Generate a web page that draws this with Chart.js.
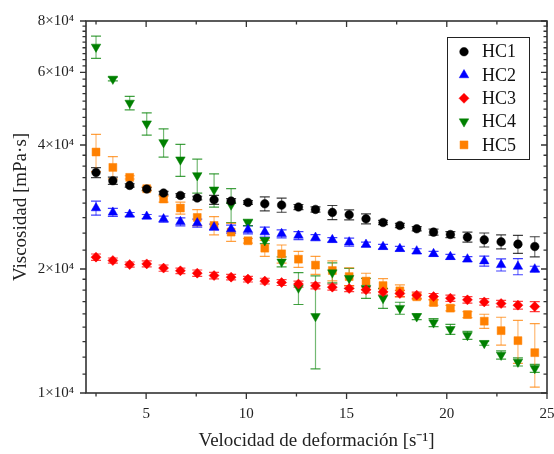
<!DOCTYPE html>
<html><head><meta charset="utf-8">
<script src="https://cdn.jsdelivr.net/npm/chart.js@4/dist/chart.umd.min.js"></script>
<style>html,body{margin:0;padding:0;background:#fff}#wrap{width:554px;height:454px}</style>
</head><body><div id="wrap"><canvas id="c" width="554" height="454"></canvas></div>
<script>
const xValues = [2.5, 3.34, 4.18, 5.03, 5.87, 6.71, 7.55, 8.39, 9.24, 10.08, 10.92, 11.76, 12.6, 13.45, 14.29, 15.13, 15.97, 16.82, 17.66, 18.5, 19.34, 20.18, 21.03, 21.87, 22.71, 23.55, 24.39];

const hc1 = [34300, 32760, 31910, 31270, 30580, 30170, 29740, 29450, 29240, 29010, 28800, 28590, 28280, 27900, 27440, 27080, 26480, 25940, 25510, 25040, 24580, 24250, 23900, 23540, 23280, 22980, 22680];
const hc1Err = [960, 680, 300, 300, 300, 300, 300, 740, 400, 300, 1130, 1120, 400, 400, 1080, 760, 740, 300, 300, 300, 410, 410, 670, 920, 910, 1160, 1270];

const hc2 = [28120, 27440, 27130, 26820, 26440, 26040, 25850, 25270, 25000, 24900, 24580, 24350, 24120, 23850, 23540, 23240, 22930, 22640, 22390, 22100, 21770, 21410, 21130, 20900, 20470, 20280, 19980];
const hc2Err = [1100, 615, 300, 300, 440, 580, 580, 425, 560, 560, 690, 545, 540, 400, 300, 520, 300, 300, 300, 300, 300, 300, 300, 585, 690, 910, 330];

const hc3 = [21370, 20970, 20500, 20580, 20100, 19800, 19540, 19280, 19110, 18900, 18690, 18540, 18380, 18200, 18070, 17930, 17800, 17600, 17440, 17280, 17140, 16990, 16830, 16640, 16490, 16340, 16210];
const hc3Err = [380, 300, 300, 350, 350, 300, 350, 350, 300, 300, 300, 300, 300, 300, 300, 300, 300, 300, 300, 300, 300, 300, 300, 300, 300, 350, 450];

const hc4 = [69220, 57870, 50600, 45070, 40590, 36850, 33750, 31150, 28640, 25940, 23450, 20820, 18000, 15350, 19600, 19000, 17970, 16990, 16070, 15330, 14820, 14280, 13810, 13210, 12370, 11900, 11480];
const hc4Err = [4300, 600, 1900, 2800, 3200, 3300, 3200, 2900, 2700, 440, 390, 580, 1600, 3900, 1100, 1060, 1000, 950, 540, 260, 330, 400, 310, 150, 280, 270, 260];

const hc5 = [38460, 35290, 33380, 31330, 29570, 28120, 26680, 25510, 24580, 23420, 22470, 21770, 21130, 20440, 19830, 19170, 18690, 18230, 17700, 17120, 16580, 16070, 15500, 14940, 14170, 13400, 12530];
const hc5Err = [4000, 2200, 300, 300, 500, 950, 1200, 1300, 1240, 300, 1000, 1100, 950, 1030, 1110, 970, 840, 715, 600, 250, 250, 250, 260, 590, 1100, 1600, 2200];

const seriesNames = ['HC1', 'HC2', 'HC3', 'HC4', 'HC5'];
const seriesColors = ['#000000', '#0000ff', '#ff0000', '#008000', '#ff8000'];

const xMajorTicks = [5, 10, 15, 20, 25];
const xMinorTicks = [2.5, 7.5, 12.5, 17.5, 22.5];
const yMajorTicks = [10000, 20000, 40000, 60000, 80000];
const yTickLabels = ['1×10⁴', '2×10⁴', '4×10⁴', '6×10⁴', '8×10⁴'];
const yMinorPerInterval = 8;

const FONT = "'Liberation Serif', 'Times New Roman', serif";

function toPoints(ys) { return xValues.map((x, i) => ({ x: x, y: ys[i] })); }

const styles = [
  { pointStyle: 'circle', radius: 4.3, rotation: 0 },
  { pointStyle: 'triangle', radius: 5.5, rotation: 0 },
  { pointStyle: 'rectRot', radius: 5, rotation: 0 },
  { pointStyle: 'triangle', radius: 5.5, rotation: 180 },
  { pointStyle: 'rect', radius: 5.6, rotation: 0 }
];
const allValues = [hc1, hc2, hc3, hc4, hc5];
const allErrors = [hc1Err, hc2Err, hc3Err, hc4Err, hc5Err];

const datasets = allValues.map((vals, k) => ({
  label: seriesNames[k],
  data: toPoints(vals),
  errors: allErrors[k],
  showLine: false,
  backgroundColor: seriesColors[k],
  borderColor: seriesColors[k],
  pointStyle: styles[k].pointStyle,
  pointRadius: styles[k].radius,
  pointRotation: styles[k].rotation,
  pointBorderWidth: 0.5
}));

function withAlpha(hex, a) {
  const r = parseInt(hex.slice(1, 3), 16), g = parseInt(hex.slice(3, 5), 16), b = parseInt(hex.slice(5, 7), 16);
  return 'rgba(' + r + ',' + g + ',' + b + ',' + a + ')';
}

const errorBarPlugin = {
  id: 'errorBars',
  beforeDatasetsDraw(chart) {
    const { ctx, scales: { x, y }, chartArea } = chart;
    ctx.save();
    ctx.beginPath();
    ctx.rect(chartArea.left, chartArea.top, chartArea.right - chartArea.left, chartArea.bottom - chartArea.top);
    ctx.clip();
    chart.data.datasets.forEach((ds) => {
      ds.data.forEach((p, i) => {
        const e = ds.errors[i];
        const px = x.getPixelForValue(p.x);
        const yt = y.getPixelForValue(p.y + e);
        const yb = y.getPixelForValue(p.y - e);
        ctx.strokeStyle = withAlpha(ds.borderColor, 0.55);
        ctx.lineWidth = 1.2;
        ctx.beginPath();
        ctx.moveTo(px, yt); ctx.lineTo(px, yb);
        ctx.stroke();
        ctx.strokeStyle = withAlpha(ds.borderColor, 0.75);
        ctx.beginPath();
        ctx.moveTo(px - 5, yt); ctx.lineTo(px + 5, yt);
        ctx.moveTo(px - 5, yb); ctx.lineTo(px + 5, yb);
        ctx.stroke();
      });
    });
    ctx.restore();
  }
};

const framePlugin = {
  id: 'frame',
  afterDatasetsDraw(chart) {
    const { ctx, scales: { x, y }, chartArea: a } = chart;
    ctx.save();
    ctx.strokeStyle = '#333';
    ctx.lineWidth = 1.6;
    ctx.strokeRect(a.left, a.top, a.right - a.left, a.bottom - a.top);
    ctx.lineWidth = 1.3;
    ctx.beginPath();
    const xt = (v, len) => {
      const px = x.getPixelForValue(v);
      ctx.moveTo(px, a.bottom); ctx.lineTo(px, a.bottom + len);
      ctx.moveTo(px, a.top); ctx.lineTo(px, a.top + len);
    };
    xMajorTicks.forEach(v => xt(v, 6));
    xMinorTicks.forEach(v => xt(v, 3.5));
    const yt = (v, len) => {
      const py = y.getPixelForValue(v);
      ctx.moveTo(a.left, py); ctx.lineTo(a.left - len, py);
      ctx.moveTo(a.right, py); ctx.lineTo(a.right - len, py);
    };
    yMajorTicks.forEach(v => yt(v, 6));
    for (let i = 0; i < yMajorTicks.length - 1; i++) {
      const lo = yMajorTicks[i], hi = yMajorTicks[i + 1];
      const step = (hi - lo) / (yMinorPerInterval + 1);
      for (let j = 1; j <= yMinorPerInterval; j++) yt(lo + j * step, 3.5);
    }
    ctx.stroke();
    ctx.restore();
  }
};

const legendPlugin = {
  id: 'boxLegend',
  afterDraw(chart) {
    const ctx = chart.ctx;
    const box = { x: 447, y: 37, w: 82, h: 122 };
    ctx.save();
    ctx.fillStyle = '#fff';
    ctx.fillRect(box.x, box.y, box.w, box.h);
    ctx.strokeStyle = '#222';
    ctx.lineWidth = 1;
    ctx.strokeRect(box.x + 0.5, box.y + 0.5, box.w, box.h);
    chart.data.datasets.forEach((ds, k) => {
      const cy = 51.7 + k * 23.3;
      const cx = 464;
      ctx.fillStyle = ds.backgroundColor;
      ctx.strokeStyle = ds.borderColor;
      ctx.lineWidth = 0.5;
      Chart.helpers.drawPoint(ctx, { pointStyle: ds.pointStyle, rotation: ds.pointRotation, radius: ds.pointRadius, borderWidth: 0.5 }, cx, cy);
      ctx.fillStyle = '#111';
      ctx.font = '18px ' + FONT;
      ctx.textBaseline = 'middle';
      ctx.textAlign = 'left';
      ctx.fillText(ds.label, 482, cy + 1);
    });
    ctx.restore();
  }
};

new Chart(document.getElementById('c'), {
  type: 'scatter',
  data: { datasets: datasets },
  options: {
    responsive: false,
    animation: false,
    devicePixelRatio: 1,
    layout: { padding: { top: 21, right: 7, left: 0, bottom: 0 } },
    plugins: { legend: { display: false }, tooltip: { enabled: false } },
    scales: {
      x: {
        type: 'linear', min: 2, max: 25,
        grid: { display: false, drawTicks: false },
        border: { display: false },
        afterBuildTicks: s => { s.ticks = xMajorTicks.map(v => ({ value: v })); },
        afterFit: s => { s.height = 61; s.paddingRight = 0; s.paddingLeft = 0; },
        ticks: { font: { family: FONT, size: 15 }, color: '#222', padding: 12, maxRotation: 0, autoSkip: false, callback: v => String(v) },
        title: { display: true, text: 'Velocidad de deformación [s⁻¹]', font: { family: FONT, size: 19 }, color: '#222', padding: { top: 0, bottom: 2 } }
      },
      y: {
        type: 'logarithmic', min: 10000, max: 80000,
        grid: { display: false, drawTicks: false },
        border: { display: false },
        afterBuildTicks: s => { s.ticks = yMajorTicks.map(v => ({ value: v })); },
        afterFit: s => { s.width = 86; s.paddingTop = 0; s.paddingBottom = 0; },
        ticks: { font: { family: FONT, size: 15 }, color: '#222', padding: 12, autoSkip: false, callback: (v, i) => yTickLabels[i] },
        title: { display: true, text: 'Viscosidad [mPa·s]', font: { family: FONT, size: 19 }, color: '#222', padding: { top: 10, bottom: 0 } }
      }
    }
  },
  plugins: [errorBarPlugin, framePlugin, legendPlugin]
});
</script>
</body></html>
